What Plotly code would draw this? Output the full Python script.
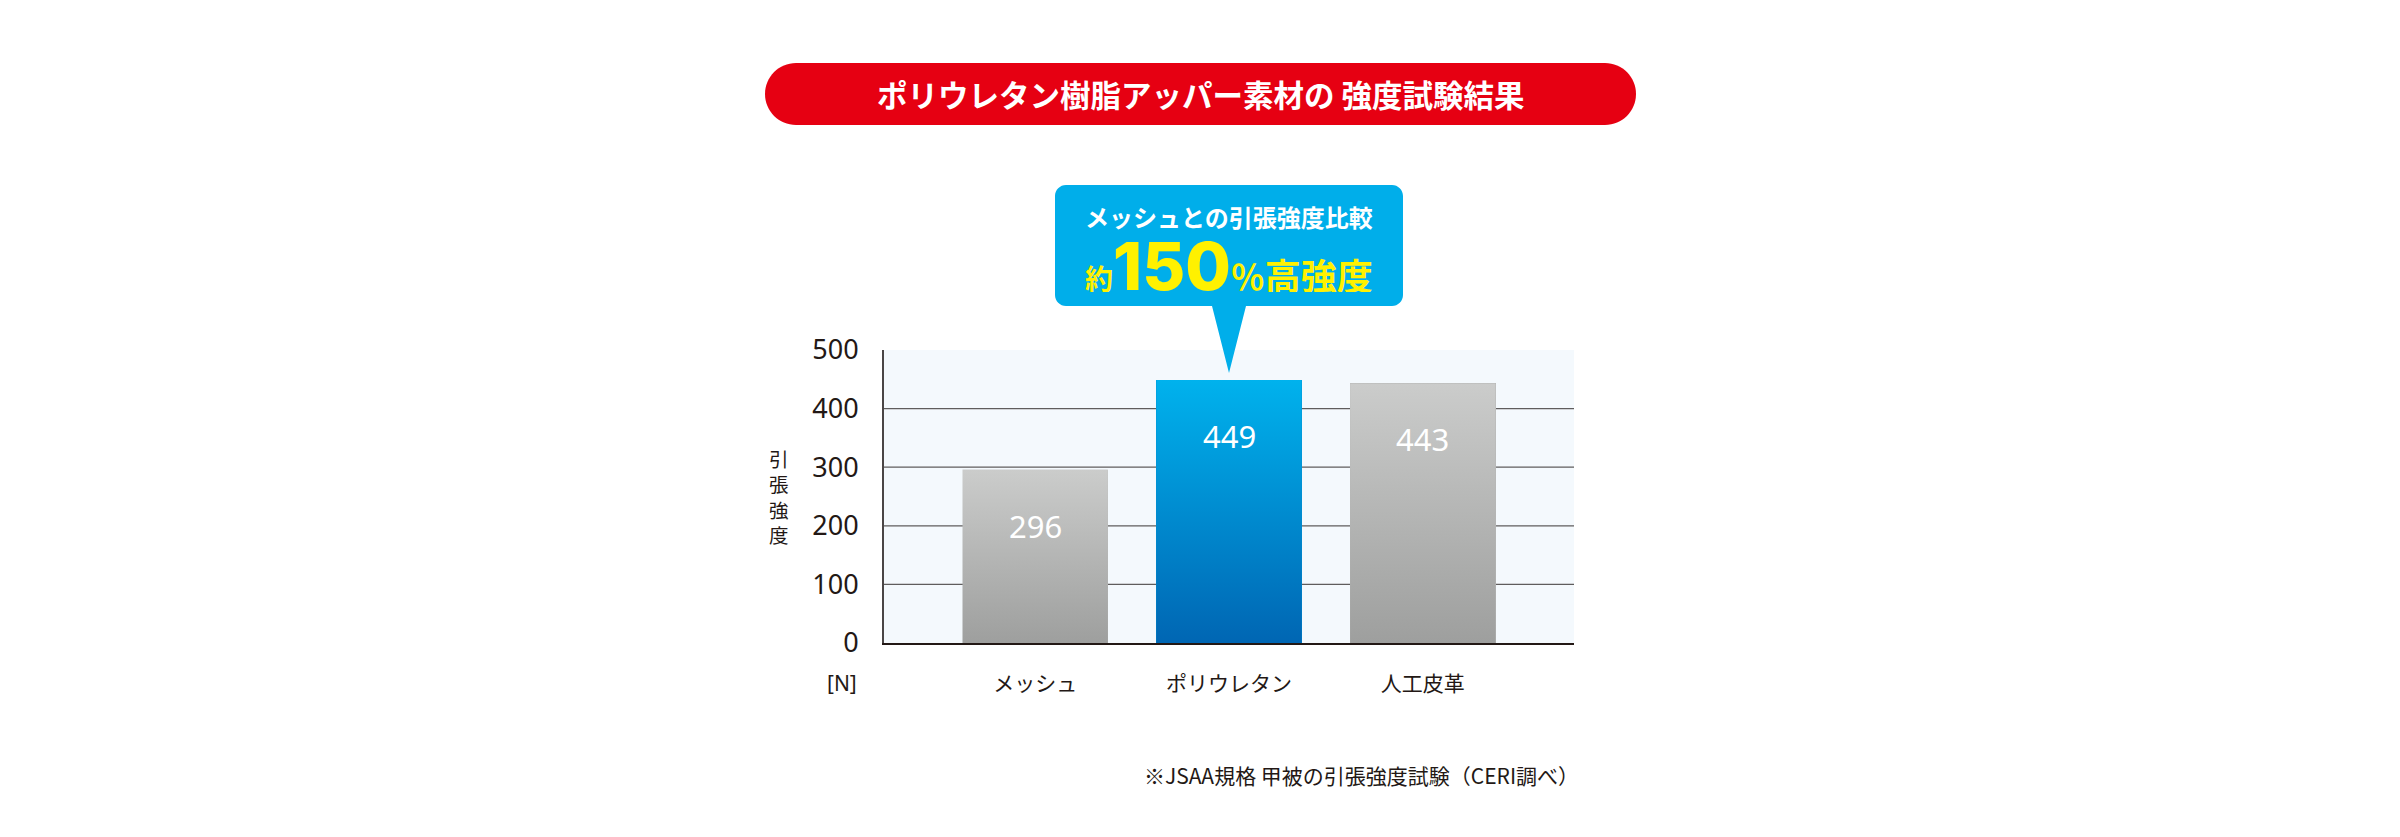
import plotly.graph_objects as go

# ---------------- data ----------------
categories = ["メッシュ", "ポリウレタン", "人工皮革"]
values = [296, 449, 443]
tick_vals = [0, 100, 200, 300, 400, 500]
tick_text = ["0", "100", "200", "300", "400", "500"]
unit_label = "[N]"
y_title = "引<br>張<br>強<br>度"
title_text = "ポリウレタン樹脂アッパー素材の 強度試験結果"
callout_line1 = "メッシュとの引張強度比較"
callout_line2 = ("<span style='font-size:28px'>約</span>"
                 "<span style='font-size:66px;font-family:Inter;font-weight:800'>150</span>"
                 "<span style='font-size:34px'>％</span>高強度")
footnote = "※JSAA規格 甲被の引張強度試験（CERI調べ）"

# ---------------- styles ----------------
bar_top_colors = ["#CBCCCB", "#00B2ED", "#CBCCCB"]
bar_bottom_colors = ["#9E9F9E", "#0066B3", "#9E9F9E"]
bar_mid_colors = ["#B4B5B4", "#008CD0", "#B4B5B4"]
bar_width = 0.75
TEXT = "#231815"
JP = "Noto Sans CJK JP"
LAT = "Noto Sans"

# page geometry (page pixels); the page body has an 8px margin
W, H = 2400, 837
OFF = 8
L, R, T, B = 884, 826, 350, 194
PW, PH = W - L - R, H - T - B


def X(px):
    return (px - L) / PW


def Y(py):
    return (H - B - py) / PH


K = 0.5523


def rounded_path(x0, y0, x1, y1, r, tail=None):
    """pixel coords (y down) -> paper path. tail = (xa, xb, xtip, ytip) on bottom edge"""
    pts = []
    pts.append(f"M {X(x0 + r)},{Y(y0)}")
    pts.append(f"L {X(x1 - r)},{Y(y0)}")
    pts.append(f"C {X(x1 - r + K * r)},{Y(y0)} {X(x1)},{Y(y0 + r - K * r)} {X(x1)},{Y(y0 + r)}")
    pts.append(f"L {X(x1)},{Y(y1 - r)}")
    pts.append(f"C {X(x1)},{Y(y1 - r + K * r)} {X(x1 - r + K * r)},{Y(y1)} {X(x1 - r)},{Y(y1)}")
    if tail:
        xa, xb, xt, yt = tail
        pts.append(f"L {X(xb)},{Y(y1)}")
        pts.append(f"L {X(xt)},{Y(yt)}")
        pts.append(f"L {X(xa)},{Y(y1)}")
    pts.append(f"L {X(x0 + r)},{Y(y1)}")
    pts.append(f"C {X(x0 + r - K * r)},{Y(y1)} {X(x0)},{Y(y1 - r + K * r)} {X(x0)},{Y(y1 - r)}")
    pts.append(f"L {X(x0)},{Y(y0 + r)}")
    pts.append(f"C {X(x0)},{Y(y0 + r - K * r)} {X(x0 + r - K * r)},{Y(y0)} {X(x0 + r)},{Y(y0)}")
    pts.append("Z")
    return " ".join(pts)


x_idx = list(range(len(categories)))

fig = go.Figure()
fig.add_trace(go.Bar(
    x=x_idx, y=values, width=bar_width,
    marker=dict(color=bar_mid_colors, line=dict(width=0)),
    hoverinfo="skip", showlegend=False,
))
# gradient overlay on each bar
for i, v in enumerate(values):
    x0, x1 = i - bar_width / 2, i + bar_width / 2
    fig.add_trace(go.Scatter(
        x=[x0, x0, x1, x1, x0], y=[0, v, v, 0, 0],
        mode="lines", line=dict(width=0), fill="toself",
        fillgradient=dict(type="vertical",
                          colorscale=[[0, bar_bottom_colors[i]], [1, bar_top_colors[i]]]),
        hoverinfo="skip", showlegend=False,
    ))

shapes = []
# gridlines (not at 0 and top)
for tv in tick_vals[1:-1]:
    shapes.append(dict(type="line", xref="paper", yref="y", x0=0, x1=1, y0=tv, y1=tv,
                       line=dict(color="#5f5d5d", width=1.2), layer="below"))
# title pill
shapes.append(dict(type="path", xref="paper", yref="paper",
                   path=rounded_path(765, 63, 1636, 125, 31),
                   fillcolor="#E60012", line=dict(width=0), layer="above"))
# callout
shapes.append(dict(type="path", xref="paper", yref="paper",
                   path=rounded_path(1055, 185, 1403, 306, 11, tail=(1212, 1246, 1229, 373)),
                   fillcolor="#00AEEA", line=dict(width=0), layer="above"))

annotations = []
annotations.append(dict(text=title_text, x=X(1200), y=Y(94), xref="paper", yref="paper",
                        showarrow=False, xanchor="center", yanchor="middle",
                        font=dict(family=JP, size=30.5, color="white", weight="bold")))
annotations.append(dict(text=callout_line1, x=X(1229), y=Y(216), xref="paper", yref="paper",
                        showarrow=False, xanchor="center", yanchor="middle", height=28,
                        font=dict(family=JP, size=24, color="white", weight="bold")))
annotations.append(dict(text=callout_line2, x=X(1229), y=Y(266), xref="paper", yref="paper",
                        showarrow=False, xanchor="center", yanchor="middle", height=52,
                        font=dict(family=JP, size=36, color="#FFF100", weight="bold")))
for i, v in enumerate(values):
    annotations.append(dict(text=str(v), x=i, y=v, xref="x", yref="y", showarrow=False,
                            xanchor="center", yanchor="middle", yshift=-56,
                            font=dict(family=LAT, size=31, color="white")))
annotations.append(dict(text=unit_label, x=X(842), y=Y(683), xref="paper", yref="paper",
                        showarrow=False, xanchor="center", yanchor="middle",
                        font=dict(family=LAT, size=21, color=TEXT)))
annotations.append(dict(text=y_title, x=X(779), y=Y(496), xref="paper", yref="paper",
                        showarrow=False, xanchor="center", yanchor="middle",
                        font=dict(family=JP, size=19.5, color=TEXT)))
annotations.append(dict(text=footnote, x=X(1581), y=Y(775), xref="paper", yref="paper",
                        showarrow=False, xanchor="right", yanchor="middle",
                        font=dict(family=JP, size=21, color=TEXT)))

fig.update_layout(
    width=W - 2 * OFF, height=H - 2 * OFF, autosize=False,
    margin=dict(l=L - OFF, r=R - OFF, t=T - OFF, b=B - OFF, pad=0),
    paper_bgcolor="white", plot_bgcolor="#F4F9FD",
    showlegend=False,
    shapes=shapes, annotations=annotations,
    bargap=0,
    xaxis=dict(range=[-0.78, 2.78], tickvals=x_idx, ticktext=categories,
               showgrid=False, zeroline=False, showline=True, linecolor="#231815", linewidth=2,
               ticks="", ticklabelstandoff=21,
               tickfont=dict(family=JP, size=21, color=TEXT), fixedrange=True),
    yaxis=dict(range=[0, 500], tickvals=tick_vals, ticktext=tick_text,
               showgrid=False, zeroline=False, showline=True, linecolor="#4a4646", linewidth=2,
               ticks="", ticklabelstandoff=18,
               tickfont=dict(family=LAT, size=27, color=TEXT), fixedrange=True),
)

fig.write_html("out.html")
